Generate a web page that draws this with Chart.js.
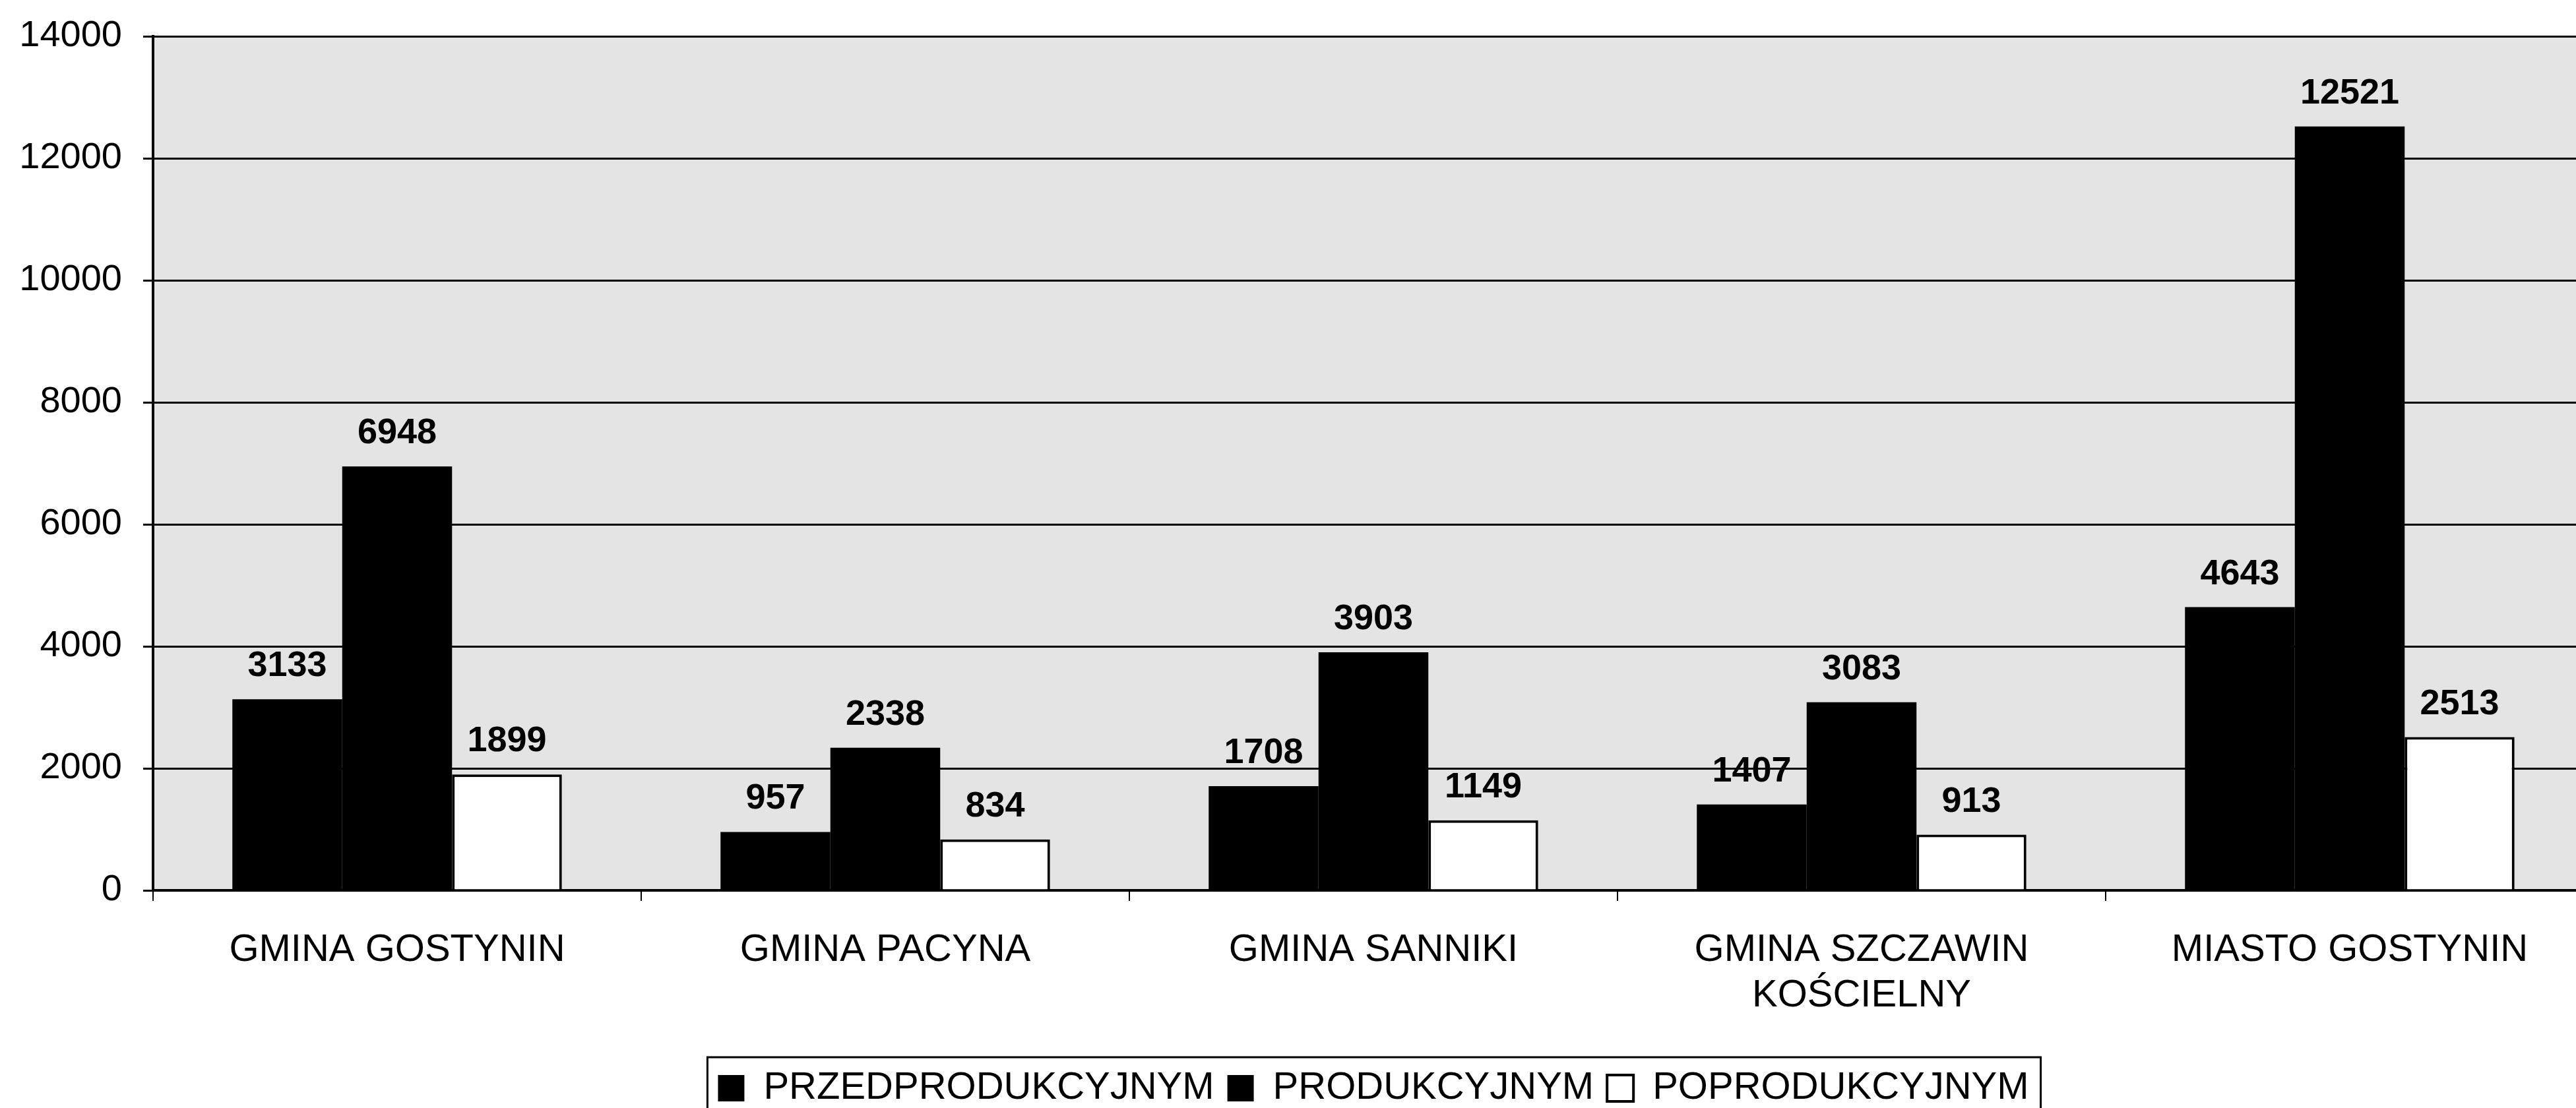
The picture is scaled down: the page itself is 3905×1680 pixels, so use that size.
<!DOCTYPE html>
<html>
<head>
<meta charset="utf-8">
<script src="https://cdn.jsdelivr.net/npm/chart.js@4.4.1/dist/chart.umd.min.js"></script>
<style>
  html, body { margin: 0; padding: 0; background: #ffffff; overflow: hidden; }
  #wrap { position: absolute; left: 0; top: 0; width: 3940px; height: 1700px; }
</style>
</head>
<body>
<div id="wrap"><canvas id="chart"></canvas></div>
<script>
// ---- data ----
const categories = [
  ['GMINA GOSTYNIN'],
  ['GMINA PACYNA'],
  ['GMINA SANNIKI'],
  ['GMINA SZCZAWIN', 'KOŚCIELNY'],
  ['MIASTO GOSTYNIN']
];
const seriesNames = ['PRZEDPRODUKCYJNYM', 'PRODUKCYJNYM', 'POPRODUKCYJNYM'];
const przedprodukcyjnym = [3133, 957, 1708, 1407, 4643];
const produkcyjnym = [6948, 2338, 3903, 3083, 12521];
const poprodukcyjnym = [1899, 834, 1149, 913, 2513];
const yTickValues = [0, 2000, 4000, 6000, 8000, 10000, 12000, 14000];

const FONT = '"Liberation Sans", Arial, sans-serif';

const plotBackground = {
  id: 'plotBackground',
  beforeDraw(chart) {
    const { ctx, chartArea: a } = chart;
    ctx.save();
    ctx.fillStyle = '#e4e4e4';
    ctx.fillRect(a.left, a.top, a.right - a.left, a.bottom - a.top);
    ctx.restore();
  }
};

const valueLabels = {
  id: 'valueLabels',
  afterDatasetsDraw(chart) {
    const ctx = chart.ctx;
    ctx.save();
    ctx.font = 'bold 54px ' + FONT;
    ctx.fillStyle = '#000';
    ctx.textAlign = 'center';
    ctx.textBaseline = 'alphabetic';
    chart.data.datasets.forEach((ds, i) => {
      const meta = chart.getDatasetMeta(i);
      meta.data.forEach((bar, j) => {
        ctx.fillText(String(ds.data[j]), bar.x, bar.y - 35);
      });
    });
    ctx.restore();
  }
};

const legendFrame = {
  id: 'legendFrame',
  afterDraw(chart) {
    const lg = chart.legend;
    if (!lg || !lg.legendHitBoxes || !lg.legendHitBoxes.length) return;
    const hb = lg.legendHitBoxes;
    const last = hb[hb.length - 1];
    const l = hb[0].left - 16;
    const r = last.left + last.width + 18;
    const t = lg.top + 2;
    const b = lg.bottom + 6;
    const ctx = chart.ctx;
    ctx.save();
    ctx.strokeStyle = '#000';
    ctx.lineWidth = 3;
    ctx.strokeRect(l, t, r - l, b - t);
    ctx.restore();
  }
};

new Chart(document.getElementById('chart'), {
  type: 'bar',
  data: {
    labels: categories,
    datasets: [
      { label: seriesNames[0], data: przedprodukcyjnym, backgroundColor: '#000000', borderColor: '#000000', borderWidth: 0 },
      { label: seriesNames[1], data: produkcyjnym, backgroundColor: '#000000', borderColor: '#000000', borderWidth: 0 },
      { label: seriesNames[2], data: poprodukcyjnym, backgroundColor: '#ffffff', borderColor: '#000000', borderWidth: 4 }
    ]
  },
  options: {
    responsive: true,
    maintainAspectRatio: false,
    animation: false,
    datasets: { bar: { categoryPercentage: 0.675, barPercentage: 1.0 } },
    layout: { padding: { top: 55, right: 8, bottom: 11, left: 0 } },
    scales: {
      x: {
        grid: { display: true, drawOnChartArea: false, drawTicks: true, tickLength: 16, color: '#000', lineWidth: 2, offset: true },
        border: { display: true, color: '#000', width: 4 },
        ticks: { color: '#000', font: { family: FONT, size: 58 }, padding: 40, maxRotation: 0, autoSkip: false },
        afterFit(scale) { scale.height = 251; scale.paddingLeft = 0; scale.paddingRight = 0; }
      },
      y: {
        min: 0,
        max: 14000,
        afterBuildTicks(scale) { scale.ticks = yTickValues.map(v => ({ value: v })); },
        grid: { color: '#000', lineWidth: 3, drawTicks: true, tickLength: 15 },
        border: { display: true, color: '#000', width: 4 },
        ticks: { color: '#000', font: { family: FONT, size: 56 }, padding: 32, callback: (v) => String(v) },
        afterFit(scale) { scale.width = 232; scale.paddingTop = 0; scale.paddingBottom = 0; }
      }
    },
    plugins: {
      legend: {
        display: true,
        position: 'bottom',
        fullSize: false,
        labels: {
          color: '#000',
          font: { family: FONT, size: 58 },
          boxWidth: 40,
          boxHeight: 40,
          padding: 20
        }
      },
      tooltip: { enabled: false },
      title: { display: false }
    }
  },
  plugins: [plotBackground, valueLabels, legendFrame]
});
</script>
</body>
</html>
